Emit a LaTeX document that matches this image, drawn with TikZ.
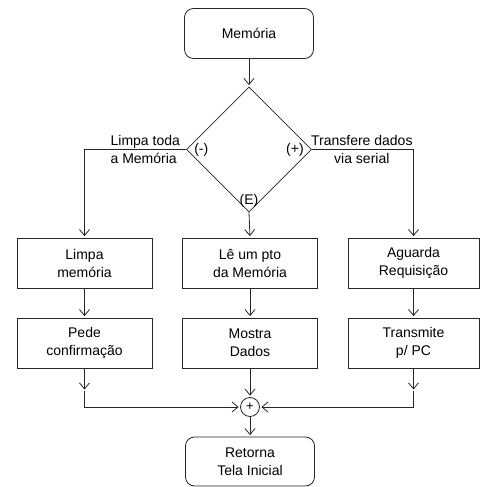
\documentclass[tikz,border=0pt]{standalone}
\usepackage{fontspec}
\setmainfont{Liberation Sans}
\usetikzlibrary{arrows.meta,positioning,shapes.geometric}

\begin{document}
\begin{tikzpicture}[x=1pt,y=-1pt,
    box/.style={draw=black!85,line width=0.8pt,
                minimum width=135pt,minimum height=50pt,
                font=\fontsize{14}{18}\selectfont,align=center,inner sep=2pt},
    term/.style={box,rounded corners=9pt,minimum width=129pt},
    cond/.style={draw=black!85,line width=0.8pt,diamond,aspect=1,
                 minimum width=125pt,minimum height=125pt,inner sep=0pt},
    sumnode/.style={draw=black!85,line width=0.8pt,circle,
                    minimum size=19pt,inner sep=0pt,font=\fontsize{13}{13}\selectfont},
    arr/.style={-{Straight Barb[length=6pt,width=10pt]},line width=0.8pt,
                draw=black!85,shorten >=1.5pt},
    lbl/.style={font=\fontsize{14}{18}\selectfont,inner sep=0pt},
]
\useasboundingbox (0,0) rectangle (480,487);

% start and decision
\node[term] (mem) at (249,33.5) {Memória};
\node[cond] (dec) at (249,149.5) {};

\node[lbl,right=8pt of dec.west]  {(-)};
\node[lbl,left=8pt of dec.east]   {(+)};
\node[lbl,above=5pt of dec.south] {(E)};

% three branches
\node[box] (lim) at (84.5,263)  {Limpa\\ memória};
\node[box] (le)  at (250,263)   {Lê um pto\\ da Memória};
\node[box,minimum width=131pt] (agu) at (413.5,263) {Aguarda\\ Requisição};

\node[box] (ped) at (84.5,343)  {Pede\\ confirmação};
\node[box] (mos) at (250,343)   {Mostra\\ Dados};
\node[box,minimum width=131pt] (tra) at (413.5,343) {Transmite\\ p/ PC};

% join and end
\node[sumnode] (sum) at (250,407) {+};
\node[term,minimum height=49pt] (ret) at (250,461.5) {Retorna\\ Tela Inicial};

\coordinate (jl) at (84.5,391);
\coordinate (jr) at (413.5,391);

\draw[arr] (mem) -- (dec);
\draw[arr] (dec.west) -| (lim.north);
\draw[arr] (dec.south) -- (le.north);
\draw[arr] (dec.east) -| (agu.north);

\node[lbl,align=left,anchor=east] at ([xshift=-6pt]dec.west)
    {Limpa toda\\ a Memória};
\node[lbl,align=center,anchor=west] at ([xshift=-1pt]dec.east)
    {Transfere dados\\ via serial};

\draw[arr] (lim) -- (ped);
\draw[arr] (le)  -- (mos);
\draw[arr] (agu) -- (tra);

\draw[arr] (ped) -- (jl);
\draw[arr] (jl) |- (sum);
\draw[arr] (tra) -- (jr);
\draw[arr] (jr) |- (sum);
\draw[arr] (mos) -- (sum);
\draw[arr] (sum) -- (ret);

\end{tikzpicture}
\end{document}
